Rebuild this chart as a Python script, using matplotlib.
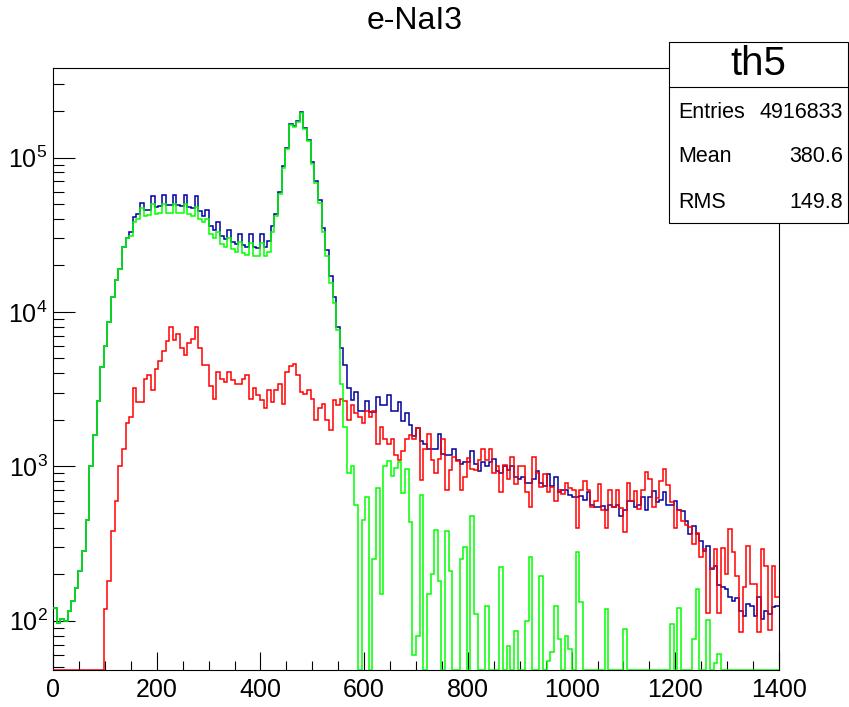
import matplotlib.pyplot as plt
import numpy as np
from matplotlib.ticker import MultipleLocator, LogLocator, NullFormatter

plt.rcParams['font.family'] = 'Liberation Sans'

# histogram th5: 200 bins of width 7 between 0 and 1400
edges = np.arange(0, 1401, 7)

blue = [121, 97, 103, 100, 115, 135, 163, 210, 284, 450,
        1010, 1600, 2650, 4400, 6000, 8600, 12500, 16000, 19000, 26500,
        30000, 33000, 41000, 43000, 51000, 46000, 46000, 56000, 48000, 48500,
        57000, 49000, 49000, 57000, 49000, 48500, 57000, 48000, 47000, 56000,
        45000, 42000, 45500, 36000, 34000, 38000, 31000, 29500, 34000, 28500,
        27500, 32000, 27000, 26500, 32000, 26500, 26000, 32000, 26500, 29000,
        36000, 43000, 60000, 88000, 115000, 165000, 160000, 172000, 197000, 155000,
        130000, 93000, 70000, 53000, 35000, 25000, 17000, 12500, 8000, 5800,
        4500, 3200, 2700, 3050, 2300, 2300, 2650, 2250, 2250, 2800,
        2500, 2500, 2900, 2300, 2300, 2600, 1980, 2200, 1860, 1580,
        1770, 1470, 1390, 1300, 1300, 1290, 1630, 1210, 1180, 1180,
        1300, 1100, 1030, 1060, 1060, 1250, 1030, 930, 1060, 1000,
        1060, 1110, 930, 910, 1000, 950, 1000, 850, 825, 850,
        785, 785, 825, 930, 785, 745, 890, 745, 850, 680,
        700, 700, 650, 630, 630, 640, 610, 680, 565, 545,
        545, 555, 525, 560, 545, 565, 475, 525, 595, 600,
        545, 560, 630, 525, 630, 690, 590, 610, 680, 565,
        560, 600, 525, 515, 440, 365, 410, 365, 330, 285,
        305, 216, 227, 170, 165, 160, 143, 135, 140, 116,
        108, 129, 125, 108, 143, 103, 116, 110, 123, 125]

green = [121, 97, 103, 100, 115, 135, 163, 210, 284, 450,
         1010, 1600, 2650, 4400, 6000, 8600, 12500, 16000, 19000, 26500,
         30000, 31000, 38000, 40000, 47000, 42000, 42500, 50000, 43000, 43500,
         50000, 44000, 44000, 50000, 44000, 43500, 50000, 43000, 42000, 48000,
         40000, 38000, 40000, 32000, 30000, 33000, 27500, 26500, 30000, 25500,
         24500, 28500, 24000, 23500, 28000, 23000, 23000, 28000, 23000, 24500,
         33000, 42000, 58000, 86000, 113000, 163000, 158000, 170000, 195000, 153000,
         128000, 91000, 68000, 51000, 33000, 23000, 15500, 11500, 7600, 3400,
         1800, 900, 1000, 560, 0, 450, 630, 0, 250, 725,
         150, 1000, 1090, 870, 980, 1060, 670, 960, 435, 60,
         80, 650, 0, 150, 200, 390, 180, 0, 380, 210,
         0, 0, 250, 300, 0, 480, 110, 0, 0, 125,
         0, 0, 0, 223, 0, 69, 0, 86, 0, 0,
         100, 258, 0, 0, 196, 0, 55, 63, 125, 76,
         0, 80, 66, 0, 280, 133, 0, 0, 0, 0,
         0, 0, 120, 0, 0, 0, 0, 88, 0, 0,
         0, 0, 0, 0, 0, 0, 0, 0, 0, 0,
         96, 0, 121, 0, 0, 0, 76, 161, 0, 0,
         101, 0, 53, 61, 0, 0, 0, 0, 0, 0,
         0, 0, 0, 0, 0, 0, 0, 0, 0, 0]

red = [0, 0, 0, 0, 0, 0, 0, 0, 0, 0,
       0, 0, 0, 0, 120, 180, 380, 600, 1000, 1300,
       1900, 2100, 3200, 2600, 2600, 3700, 3900, 3100, 4300, 4800,
       5600, 6500, 8000, 6600, 7200, 5800, 5300, 6300, 6700, 8000,
       5800, 4500, 4500, 3300, 2750, 4100, 3700, 3500, 4100, 3600,
       3400, 3400, 3700, 3900, 2750, 3200, 2900, 2700, 2400, 3100,
       2600, 3100, 3400, 2550, 4100, 4450, 4600, 3900, 3050, 2950,
       3100, 2750, 2000, 2400, 2550, 2000, 1730, 2700, 2500, 2750,
       2650, 2000, 2500, 2200, 2100, 1900, 2300, 2100, 2300, 1390,
       1800, 1500, 1400, 1500, 1180, 1100, 1250, 1500, 1600, 1500,
       1770, 810, 1300, 1630, 1100, 900, 1120, 1500, 700, 950,
       1150, 1080, 700, 850, 1130, 960, 950, 1100, 1290, 1100,
       1290, 910, 1000, 680, 1020, 825, 1150, 765, 1000, 1000,
       680, 545, 1150, 910, 740, 890, 680, 740, 600, 700,
       665, 780, 720, 700, 400, 700, 800, 700, 545, 600,
       765, 520, 400, 700, 545, 700, 540, 375, 780, 600,
       690, 530, 700, 920, 830, 545, 620, 800, 955, 760,
       590, 400, 520, 440, 420, 405, 315, 370, 260, 290,
       113, 220, 290, 113, 296, 200, 393, 280, 196, 85,
       165, 305, 173, 173, 85, 290, 227, 87, 227, 143]

ymin, ymax = 48, 3.8e5

fig = plt.figure(figsize=(8.49, 7.07), dpi=100)
ax = fig.add_axes([53 / 849, 37 / 707, 726 / 849, 602 / 707])

# empty bins are drawn along the bottom of the frame, as ROOT does
for vals, col, z in [(blue, '#00009c', 2), (red, '#ff0000', 3), (green, '#00ff00', 4)]:
    v = np.maximum(np.array(vals, dtype=float), ymin)
    ax.stairs(v, edges, baseline=None, color=col, lw=1.1, zorder=z)

ax.set_yscale('log')
ax.set_xlim(0, 1400)
ax.set_ylim(ymin, ymax)

ax.xaxis.set_major_locator(MultipleLocator(200))
ax.xaxis.set_minor_locator(MultipleLocator(50))
ax.yaxis.set_major_locator(LogLocator(base=10))
ax.yaxis.set_minor_locator(LogLocator(base=10, subs=np.arange(2, 10)))
ax.yaxis.set_minor_formatter(NullFormatter())

ax.tick_params(which='both', direction='in', top=False, right=False, width=0.8, colors='black')
ax.tick_params(axis='x', which='major', length=13, labelsize=18, pad=6)
ax.tick_params(axis='x', which='minor', length=6.5)
ax.tick_params(axis='y', which='major', length=15.6, labelsize=18, pad=4)
ax.tick_params(axis='y', which='minor', length=7.7)
for s in ax.spines.values():
    s.set_linewidth(0.8)

fig.text(415 / 849, 1 - 21 / 707, 'e-NaI3', ha='center', va='center', fontsize=23)

# stats box
bx0, bx1 = 669 / 849, 848 / 849
by_top, by_mid, by_bot = 1 - 42 / 707, 1 - 87 / 707, 1 - 223 / 707
fig.add_artist(plt.Rectangle((bx0, by_bot), bx1 - bx0, by_top - by_bot,
                             transform=fig.transFigure, fc='white', ec='black', lw=0.8, zorder=10))
fig.add_artist(plt.Line2D([bx0, bx1], [by_mid, by_mid], transform=fig.transFigure,
                          color='black', lw=0.8, zorder=11))
fig.text((bx0 + bx1) / 2, 1 - 64 / 707, 'th5', ha='center', va='center', fontsize=29, zorder=12)
stats = [('Entries', '4916833', 112), ('Mean', '380.6', 157), ('RMS', '149.8', 202)]
for lab, val, yp in stats:
    fig.text(678 / 849, 1 - yp / 707, lab, ha='left', va='center', fontsize=15.5, zorder=12)
    fig.text(843 / 849, 1 - yp / 707, val, ha='right', va='center', fontsize=15.5, zorder=12)

fig.savefig('out.png', dpi=100)
